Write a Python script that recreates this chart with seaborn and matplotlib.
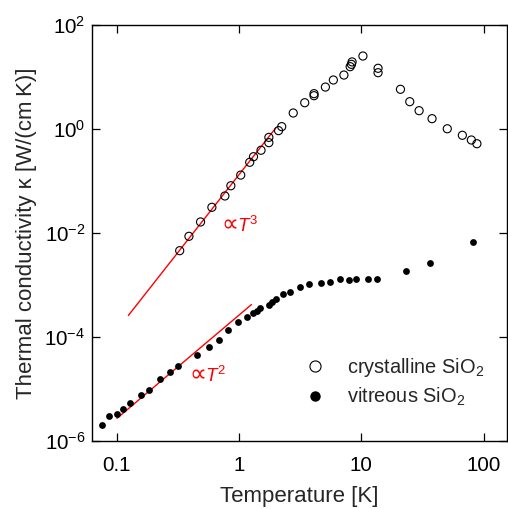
import numpy as np
import pandas as pd
import matplotlib
matplotlib.use("Agg")
import matplotlib.pyplot as plt
from matplotlib.lines import Line2D
import seaborn as sns

# ---- data ----
cryst_T = [0.326, 0.388, 0.483, 0.598, 0.764, 0.855, 1.03, 1.22, 1.31, 1.51,
           1.75, 1.75, 2.1, 2.23, 2.77, 3.44, 4.1, 4.1, 5.08, 5.9, 7.2, 8.1,
           8.3, 8.4, 10.3, 13.7, 13.7, 20.9, 24.9, 29.7, 37.9, 50.5, 67.1,
           79.5, 88.3]
cryst_k = [0.00457, 0.00863, 0.0163, 0.0312, 0.0515, 0.081, 0.130, 0.229,
           0.293, 0.39, 0.546, 0.69, 0.93, 1.11, 2.03, 3.2, 4.37, 4.78, 6.4,
           8.75, 10.9, 15.8, 17.5, 19.5, 25.3, 14.7, 12.1, 5.8, 3.35, 2.25,
           1.58, 1.01, 0.757, 0.614, 0.521]

vit_T = [0.075, 0.0865, 0.1, 0.111, 0.128, 0.158, 0.182, 0.226, 0.271, 0.313,
         0.448, 0.569, 0.683, 0.813, 0.975, 1.16, 1.3, 1.39, 1.47, 1.75, 1.86,
         1.99, 2.29, 2.63, 3.13, 3.73, 4.66, 5.55, 6.66, 7.93, 9.1, 11.3,
         13.4, 23.1, 36.5, 82.6]
vit_k = [2.03e-6, 3.03e-6, 3.3e-6, 4.1e-6, 5.4e-6, 7.7e-6, 9.6e-6, 1.54e-5,
         2.15e-5, 2.77e-5, 4.57e-5, 6.4e-5, 8.87e-5, 1.35e-4, 1.91e-4, 2.46e-4,
         2.85e-4, 3.2e-4, 3.56e-4, 4.1e-4, 4.77e-4, 5.3e-4, 6.8e-4, 7.4e-4,
         9.2e-4, 1.04e-3, 1.11e-3, 1.14e-3, 1.32e-3, 1.26e-3, 1.30e-3, 1.30e-3,
         1.30e-3, 1.83e-3, 2.69e-3, 6.8e-3]

# guide lines (end points)
t3_T = [0.124, 2.0]
t3_k = [2.6e-4, 1.06]
t2_T = [0.1, 1.26]
t2_k = [2.73e-6, 4.2e-4]

x_ticks = [0.1, 1, 10, 100]
x_ticklabels = ["0.1", "1", "10", "100"]
y_ticks = [1e-6, 1e-4, 1e-2, 1e0, 1e2]
y_ticklabels = [r"$10^{-6}$", r"$10^{-4}$", r"$10^{-2}$", r"$10^{0}$", r"$10^{2}$"]

legend_labels = ["crystalline SiO$_2$", "vitreous SiO$_2$"]

# ---- style ----
sns.set_style("ticks")
plt.rcParams["font.family"] = ["Liberation Sans", "DejaVu Sans"]
plt.rcParams["mathtext.fontset"] = "custom"
plt.rcParams["mathtext.rm"] = "Liberation Sans"
plt.rcParams["mathtext.it"] = "Liberation Sans:italic"
plt.rcParams["mathtext.bf"] = "Liberation Sans:bold"

FS_TICK = 14.8
FS_LABEL = 16
FS_LEG = 14.4

fig = plt.figure(figsize=(5.08, 5.09), dpi=100)
ax = fig.add_axes([0.1817, 0.1336, 0.8163, 0.8173])

df_c = pd.DataFrame({"T": cryst_T, "k": cryst_k})
df_v = pd.DataFrame({"T": vit_T, "k": vit_k})
df_l3 = pd.DataFrame({"T": t3_T, "k": t3_k})
df_l2 = pd.DataFrame({"T": t2_T, "k": t2_k})

sns.lineplot(data=df_l3, x="T", y="k", color="red", lw=1.0, ax=ax, zorder=1)
sns.lineplot(data=df_l2, x="T", y="k", color="red", lw=1.0, ax=ax, zorder=1)
sns.scatterplot(data=df_c, x="T", y="k", marker="o", s=34, facecolors="none",
                edgecolor="black", linewidth=0.8, ax=ax, zorder=3)
sns.scatterplot(data=df_v, x="T", y="k", marker="o", s=24, color="black",
                edgecolor="black", linewidth=0, ax=ax, zorder=3)

ax.set_xscale("log")
ax.set_yscale("log")
ax.set_xlim(0.0628, 155.6)
ax.set_ylim(1e-6, 1e2)

ax.xaxis.set_major_locator(matplotlib.ticker.FixedLocator(x_ticks))
ax.xaxis.set_major_formatter(matplotlib.ticker.FixedFormatter(x_ticklabels))
ax.yaxis.set_major_locator(matplotlib.ticker.FixedLocator(y_ticks))
ax.yaxis.set_major_formatter(matplotlib.ticker.FixedFormatter(y_ticklabels))
ax.xaxis.set_minor_locator(matplotlib.ticker.NullLocator())
ax.yaxis.set_minor_locator(matplotlib.ticker.NullLocator())

ax.tick_params(which="major", direction="in", length=6, width=0.9,
               top=True, right=True, labelsize=FS_TICK, colors="black")
ax.tick_params(axis="x", pad=11)
ax.tick_params(axis="y", pad=5)
for sp in ax.spines.values():
    sp.set_linewidth(1.0)
    sp.set_color("black")

ax.set_xlabel("Temperature [K]", fontsize=FS_LABEL, labelpad=8)
ax.set_ylabel("Thermal conductivity \u03ba [W/(cm\u2009K)]", fontsize=FS_LABEL, labelpad=5)

# power-law annotations
for (tx, ty, sup) in [(0.71, 0.0106, "3"), (0.39, 1.38e-5, "2")]:
    ax.text(tx, ty, "\u221d", family=["DejaVu Sans"], color="red", fontsize=17,
            ha="left", va="baseline")
    ax.annotate("$T^%s$" % sup, xy=(tx, ty), xytext=(11.5, 0),
                textcoords="offset points", color="red", fontsize=13.5,
                ha="left", va="baseline")

handles = [
    Line2D([], [], ls="none", marker="o", markersize=8, markerfacecolor="none",
           markeredgecolor="black", markeredgewidth=0.8),
    Line2D([], [], ls="none", marker="o", markersize=7.5, markerfacecolor="black",
           markeredgecolor="black", markeredgewidth=0),
]
ax.legend(handles, legend_labels, loc="center left", bbox_to_anchor=(0.512, 0.141),
          frameon=False, handlelength=1.0, handletextpad=1.1, borderpad=0,
          borderaxespad=0, labelspacing=0.35, fontsize=FS_LEG)

fig.savefig("out.png", dpi=100)
